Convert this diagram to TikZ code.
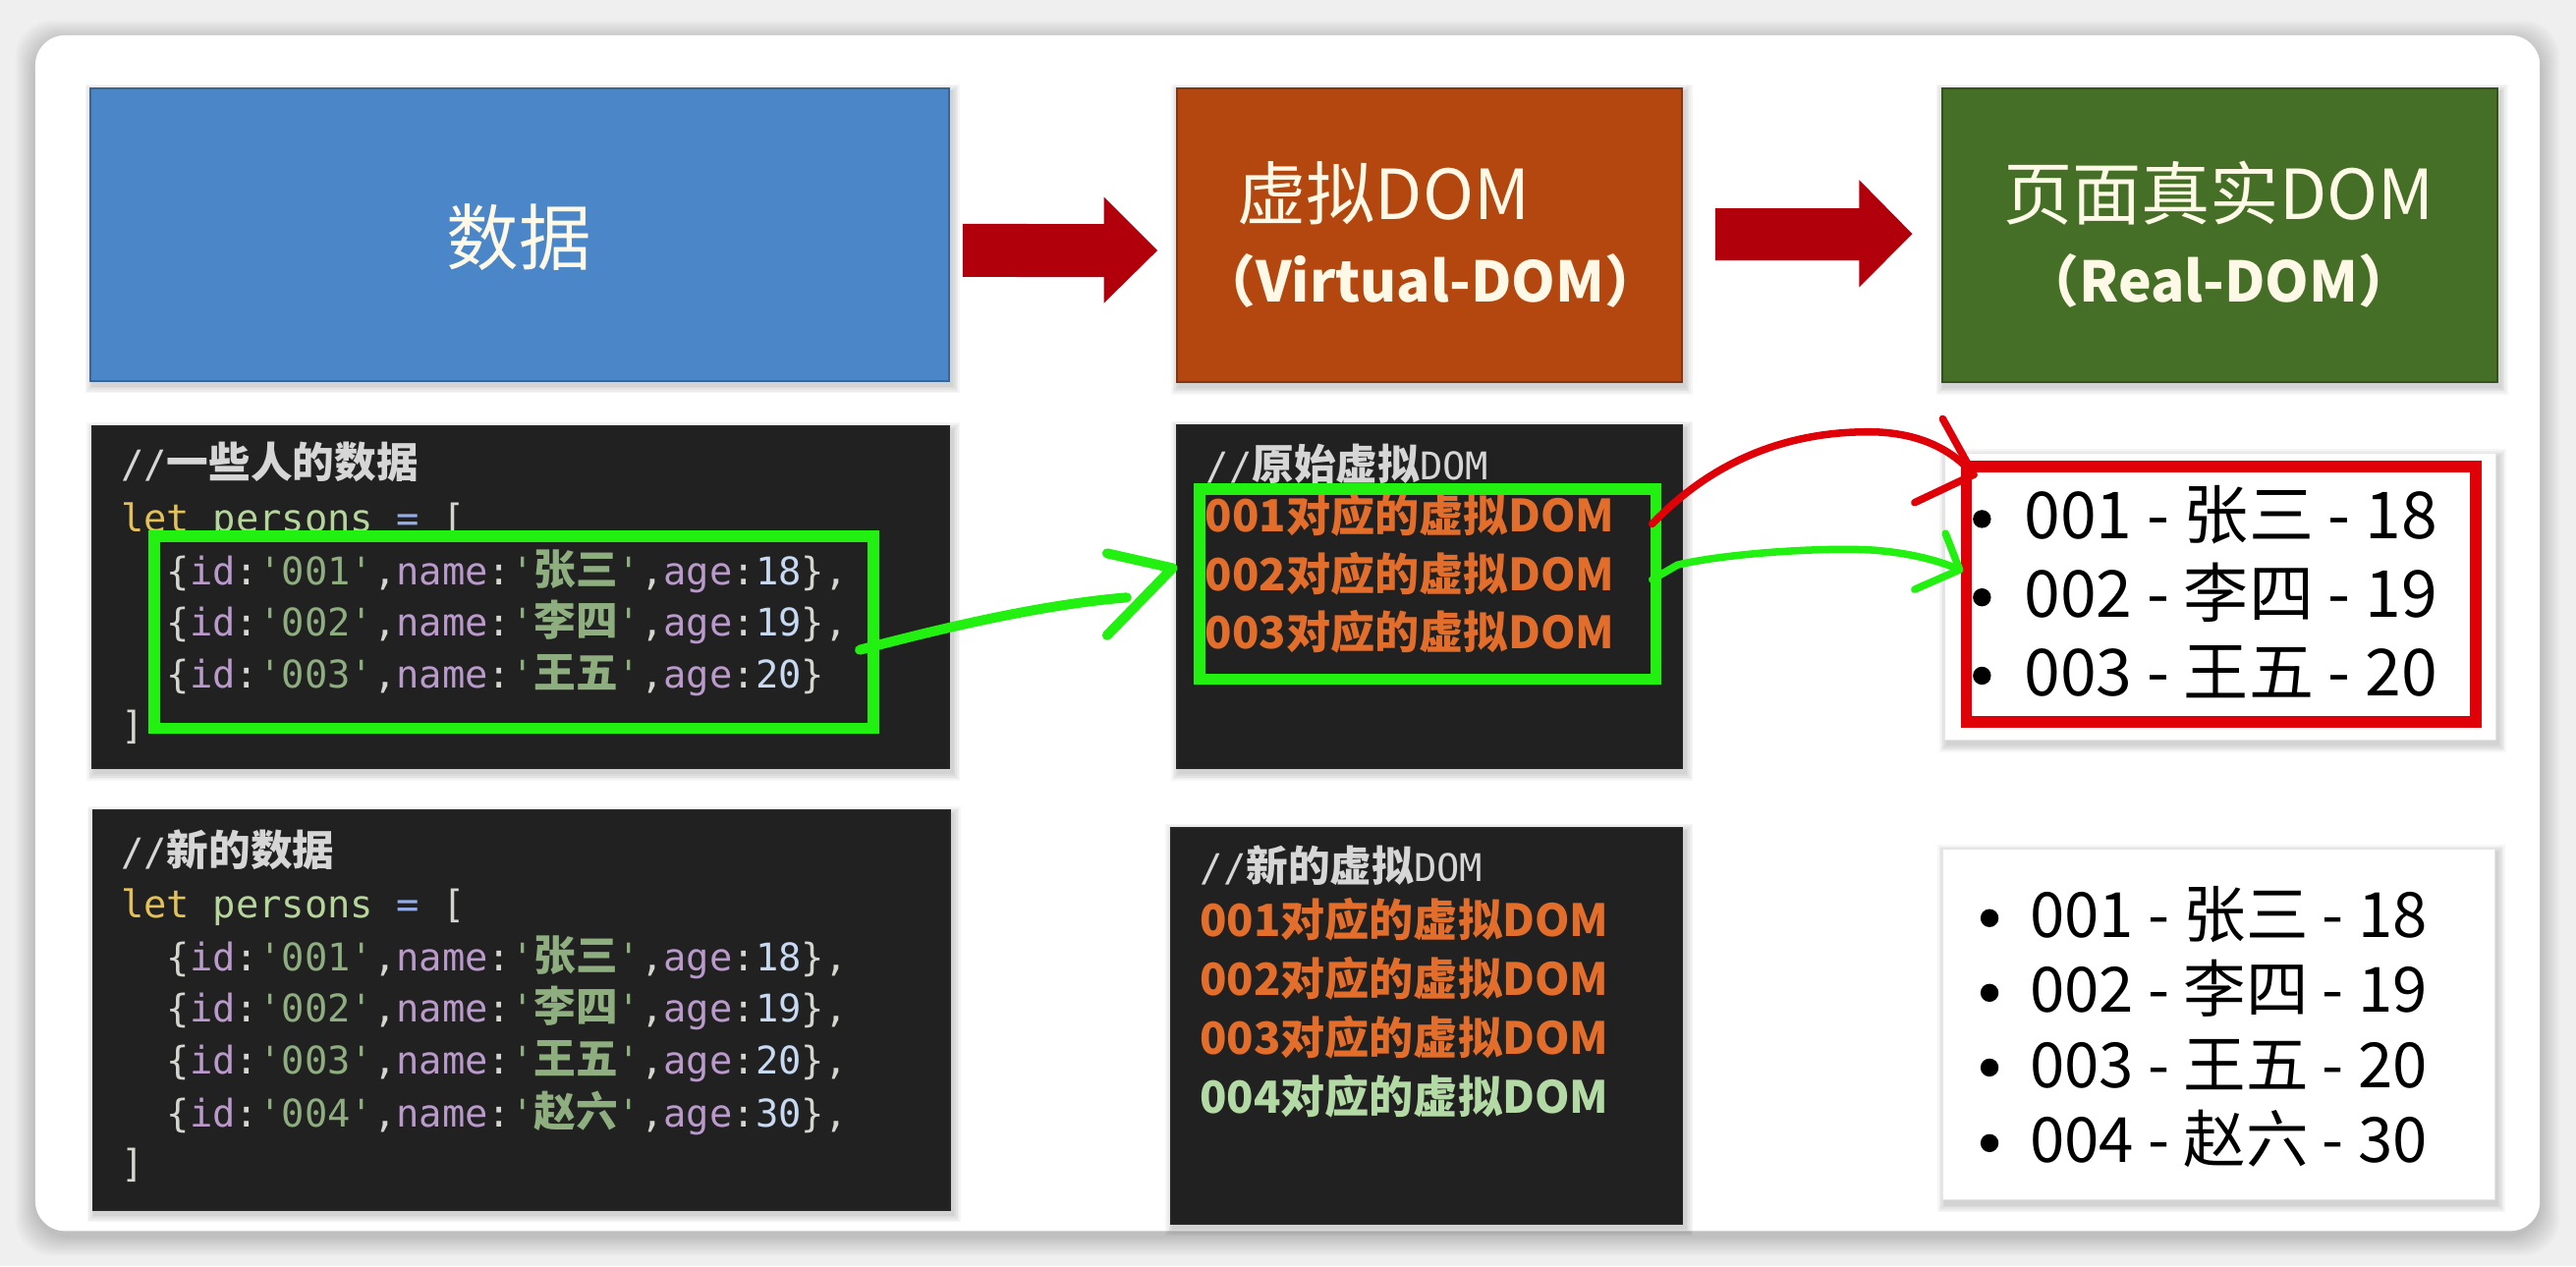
\documentclass[tikz,border=0pt]{standalone}
\usepackage{fontspec}
\setmonofont{DejaVu Sans Mono}
\newfontfamily\cjk{Noto Sans CJK SC}
\usetikzlibrary{calc}
\definecolor{bgc}{HTML}{EFEFEF}
\definecolor{cblue}{HTML}{4A86C8}
\definecolor{corange}{HTML}{B4460F}
\definecolor{cgreenbox}{HTML}{456F26}
\definecolor{ctitle}{HTML}{FDF9E6}
\definecolor{arrowred}{HTML}{B1000B}
\definecolor{cbg}{HTML}{212121}
\definecolor{ccom}{HTML}{D6D6D6}
\definecolor{clet}{HTML}{E3C158}
\definecolor{cvar}{HTML}{B5D59B}
\definecolor{ceq}{HTML}{93AEE6}
\definecolor{cpun}{HTML}{D3D6CF}
\definecolor{ckey}{HTML}{B99ACB}
\definecolor{cstr}{HTML}{8EAE80}
\definecolor{cnum}{HTML}{C8D9F2}
\definecolor{corg}{HTML}{E36D2B}
\definecolor{cgr4}{HTML}{B3D9A5}
\definecolor{hgreen}{HTML}{22F011}
\definecolor{hred}{HTML}{E00008}
\newcommand\CS{\ttfamily\fontsize{23.2}{28}\selectfont}
\newcommand\CJ[1]{{\cjk\bfseries\fontsize{25.5}{28}\selectfont #1}}
\newcommand\rec[4]{\textcolor{cpun}{\{}\textcolor{ckey}{id}\textcolor{cpun}{:}\textcolor{cstr}{'#1'}\textcolor{cpun}{,}\textcolor{ckey}{name}\textcolor{cpun}{:}\textcolor{cstr}{'\CJ{#2}'}\textcolor{cpun}{,}\textcolor{ckey}{age}\textcolor{cpun}{:}\textcolor{cnum}{#3}\textcolor{cpun}{\}#4}}
\newcommand\letline{\textcolor{clet}{let} \textcolor{cvar}{persons} \textcolor{ceq}{=} \textcolor{cpun}{[}}
\newcommand\vdl[2]{{\cjk\bfseries\fontsize{27}{27}\selectfont\color{#2}#1对应的虚拟DOM}}
\newcommand\softshade[4]{\foreach \k in {1,...,5}{\fill[black,fill opacity=0.035] (#1-\k+1.5,#2-\k+2.5) rectangle (#3+\k+1.5,#4+\k+2.5);}}
\begin{document}
\begin{tikzpicture}[x=1pt,y=-1pt,
  titlebox/.style={draw=#1!75!black, fill=#1, line width=1.2pt, inner sep=0, outer sep=0, anchor=north west},
  codebox/.style={draw=black!85, fill=cbg, line width=1pt, inner sep=0, outer sep=0, anchor=north west},
  listbox/.style={draw=black!10, fill=white, line width=0.6pt, inner sep=0, outer sep=0, anchor=north west},
  selbox/.style={draw=#1, line width=7pt, inner sep=0, outer sep=0, anchor=north west},
  hand/.style={line width=6pt, line cap=round, line join=round},
  ttl/.style={text=ctitle, inner sep=0, anchor=base},
  code/.style={font=\CS, inner sep=0, anchor=base west},
  lst/.style={inner sep=0, anchor=base west, text=black},
  bul/.style={circle, fill=black, inner sep=0, minimum size=11pt}]
\useasboundingbox (0,0) rectangle (1568,771);
\fill[bgc] (0,0) rectangle (1568,771);
% card shadow and card
\foreach \k in {1,...,12}{\fill[black,fill opacity=0.016,rounded corners=22pt] (21.5-\k,21.5-\k+3) rectangle (1546+\k,749.5+\k+3);}
\fill[white, rounded corners=18pt] (21.5,21.5) rectangle (1546,749.5);

% shadows of boxes
\softshade{55.3}{53.8}{577.8}{232}
\softshade{716.4}{53.8}{1023.6}{232.8}
\softshade{1182}{53.8}{1520}{232.8}
\softshade{56.2}{259.6}{578}{468}
\softshade{56.5}{493.4}{578.4}{736.7}
\softshade{716.4}{258.8}{1024}{468}
\softshade{713}{504}{1024}{745}
\softshade{1184}{276}{1519}{450.5}
\softshade{1182.8}{516.7}{1518.5}{730.7}

% title boxes
\node[titlebox=cblue, minimum width=522.5pt, minimum height=178.2pt] (data) at (55.3,53.8) {};
\node[titlebox=corange, minimum width=307.2pt, minimum height=179pt] (vdom) at (716.4,53.8) {};
\node[titlebox=cgreenbox, minimum width=338pt, minimum height=179pt] (rdom) at (1182,53.8) {};
\node[ttl, font=\cjk\fontsize{44}{44}\selectfont] (tdata) at (316,161) {数据};
\node[ttl, anchor=base west, font=\cjk\fontsize{42}{42}\selectfont] (tv1) at (753,133.5) {虚拟DOM};
\node[ttl, font=\cjk\bfseries\fontsize{34}{34}\selectfont] (tv2) at (870.5,184) {（Virtual-DOM）};
\node[ttl, font=\cjk\fontsize{42}{42}\selectfont] (tr1) at (1350.5,133.5) {页面真实DOM};
\node[ttl, font=\cjk\bfseries\fontsize{34}{34}\selectfont] (tr2) at (1350.5,184) {（Real-DOM）};

% block arrows
\fill[arrowred] ($(data.east)+(8.2,-6.6)$) -- ($(vdom.west)+(-44.4,-6.9)$) -- ($(vdom.west)+(-44.4,-23.3)$)
  -- ($(vdom.west)+(-11.9,9.2)$) -- ($(vdom.west)+(-44.4,41.2)$) -- ($(vdom.west)+(-44.4,25.4)$)
  -- ($(data.east)+(8.2,25.7)$) -- cycle;
\fill[arrowred] ($(vdom.east)+(20.4,-16.5)$) -- ($(rdom.west)+(-50.4,-16.5)$) -- ($(rdom.west)+(-50.4,-33.8)$)
  -- ($(rdom.west)+(-18,-0.9)$) -- ($(rdom.west)+(-50.4,31.7)$) -- ($(rdom.west)+(-50.4,15.2)$)
  -- ($(vdom.east)+(20.4,15.2)$) -- cycle;

% code box 1
\node[codebox, minimum width=521.8pt, minimum height=208.4pt] (code1) at (56.2,259.6) {};
\node[code] (c1c) at (73.5,291) {\textcolor{ccom}{//\CJ{一些人的数据}}};
\node[code] (c1l) at (73.5,324) {\letline};
\node[code] (c1a) at (101.4,356) {\rec{001}{张三}{18}{,}};
\node[code] (c1b) at (101.4,387.5) {\rec{002}{李四}{19}{,}};
\node[code] (c1d) at (101.4,419) {\rec{003}{王五}{20}{}};
\node[code] (c1e) at (73.5,450) {\textcolor{cpun}{]}};

% code box 2
\node[codebox, minimum width=521.9pt, minimum height=243.3pt] (code2) at (56.5,493.4) {};
\node[code] (c2c) at (73.5,527) {\textcolor{ccom}{//\CJ{新的数据}}};
\node[code] (c2l) at (73.5,559) {\letline};
\node[code] (c2a) at (101.4,591) {\rec{001}{张三}{18}{,}};
\node[code] (c2b) at (101.4,622.5) {\rec{002}{李四}{19}{,}};
\node[code] (c2d) at (101.4,654) {\rec{003}{王五}{20}{,}};
\node[code] (c2e) at (101.4,686) {\rec{004}{赵六}{30}{,}};
\node[code] (c2f) at (73.5,717) {\textcolor{cpun}{]}};

% virtual DOM box 1
\node[codebox, minimum width=307.6pt, minimum height=209.2pt] (vbox1) at (716.4,258.8) {};
\node[code] (v1c) at (734,292) {\textcolor{ccom}{//\CJ{原始虚拟}DOM}};
\node[lst] (v1a) at (733.5,324) {\vdl{001}{corg}};
\node[lst] (v1b) at (733.5,359.5) {\vdl{002}{corg}};
\node[lst] (v1d) at (733.5,395) {\vdl{003}{corg}};

% virtual DOM box 2
\node[codebox, minimum width=311pt, minimum height=241pt] (vbox2) at (713,504) {};
\node[code] (v2c) at (730.5,537) {\textcolor{ccom}{//\CJ{新的虚拟}DOM}};
\node[lst] (v2a) at (730,570) {\vdl{001}{corg}};
\node[lst] (v2b) at (730,606) {\vdl{002}{corg}};
\node[lst] (v2d) at (730,642) {\vdl{003}{corg}};
\node[lst] (v2e) at (730,678) {\vdl{004}{cgr4}};

% real DOM list 1
\node[listbox, minimum width=335pt, minimum height=174.5pt] (list1) at (1184,276) {};
\node[lst, font=\cjk\fontsize{39.5}{40}\selectfont] (r1a) at (1232,328) {001 - 张三 - 18};
\node[lst, font=\cjk\fontsize{39.5}{40}\selectfont] (r1b) at (1232,375.7) {002 - 李四 - 19};
\node[lst, font=\cjk\fontsize{39.5}{40}\selectfont] (r1d) at (1232,423.4) {003 - 王五 - 20};
\node[bul] (b1a) at (1206.4,316) {};
\node[bul] (b1b) at (1206.4,363.7) {};
\node[bul] (b1d) at (1206.4,411.4) {};

% real DOM list 2
\node[listbox, minimum width=335.7pt, minimum height=214pt] (list2) at (1182.8,516.7) {};
\node[lst, font=\cjk\fontsize{38}{40}\selectfont] (r2a) at (1235.5,571) {001 - 张三 - 18};
\node[lst, font=\cjk\fontsize{38}{40}\selectfont] (r2b) at (1235.5,616.5) {002 - 李四 - 19};
\node[lst, font=\cjk\fontsize{38}{40}\selectfont] (r2d) at (1235.5,662) {003 - 王五 - 20};
\node[lst, font=\cjk\fontsize{38}{40}\selectfont] (r2e) at (1235.5,707.7) {004 - 赵六 - 30};
\node[bul] (b2a) at (1211,559) {};
\node[bul] (b2b) at (1211,604.5) {};
\node[bul] (b2d) at (1211,650) {};
\node[bul] (b2e) at (1211,696) {};

% hand-drawn highlight boxes
\node[selbox=hgreen, minimum width=437.5pt, minimum height=117pt] (sel1) at (94,326.5) {};
\node[selbox=hgreen, minimum width=278pt, minimum height=115.6pt] (sel2) at (730,298) {};
\node[selbox=hred, minimum width=310pt, minimum height=155.5pt] (sel3) at (1197,284) {};

% hand-drawn arrows
\coordinate (g1s) at ($(sel1.east)+(-8.2,10.7)$);
\coordinate (g1t) at ($(sel2.west)+(-16.3,-9.9)$);
\draw[hand, hgreen] (g1s) .. controls (575,382) and (635,368) .. (685.8,363.8);
\draw[hand, hgreen] ($(g1t)+(-39.8,-9)$) -- (g1t) -- ($(g1t)+(-39.8,40.9)$);

\coordinate (r1s) at ($(sel2.north east)+(-2.3,21)$);
\coordinate (r1t) at ($(sel3.north west)+(4.4,5)$);
\draw[hand, hred, line width=4.5pt] (r1s) .. controls (1040,283) and (1085,262) .. (1141,263) .. controls (1172,264) and (1190,276) .. (r1t);
\draw[hand, hred, line width=4.5pt] ($(r1t)+(-18.9,-34)$) -- (r1t) -- ($(r1t)+(-36,17)$);

\coordinate (g2s) at ($(sel2.east)+(-2.3,-2.9)$);
\coordinate (g2t) at ($(sel3.west)+(-4.2,-14.85)$);
\draw[hand, hgreen, line width=4.5pt] (g2s) -- (1021,344) .. controls (1050,337) and (1110,333) .. (1141,335) .. controls (1165,337) and (1182,342) .. (g2t);
\draw[hand, hgreen, line width=4.5pt] ($(g2t)+(-8.6,-22.1)$) -- (g2t) -- ($(g2t)+(-27.4,12)$);
\end{tikzpicture}
\end{document}
